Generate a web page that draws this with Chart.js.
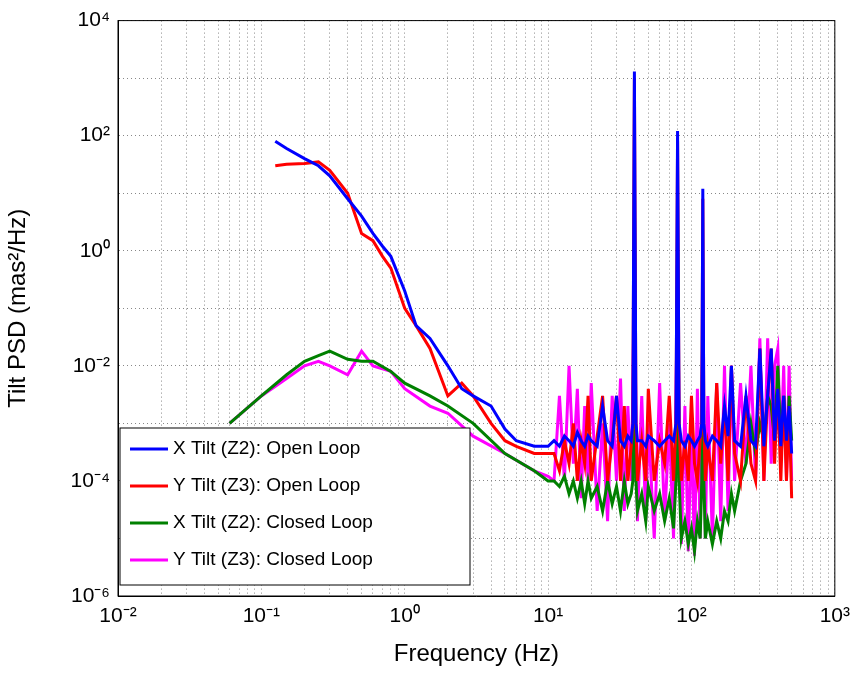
<!DOCTYPE html>
<html>
<head>
<meta charset="utf-8">
<script src="https://cdn.jsdelivr.net/npm/chart.js@4"></script>
<style>
  body { margin: 0; background: #fff; }
  #wrap { width: 858px; height: 673px; }
</style>
</head>
<body>
<div id="wrap"><canvas id="psd"></canvas></div>
<script>
// low-frequency parts
const freqLowOpen = [0.125, 0.15, 0.2, 0.25, 0.3, 0.4, 0.5, 0.6, 0.7, 0.8, 1, 1.2, 1.5, 2, 2.5, 3, 4, 5, 6, 8, 10];
const xOpenLow = [80, 60, 40, 30, 20, 8, 4, 2, 1.2, 0.8, 0.2, 0.05, 0.03, 0.01, 0.004, 0.003, 0.002, 0.0008, 0.0005, 0.0004, 0.0004];
const yOpenLow = [30, 32, 33, 35, 25, 10, 2, 1.5, 0.8, 0.5, 0.1, 0.05, 0.02, 0.003, 0.005, 0.003, 0.001, 0.0005, 0.0004, 0.0003, 0.0003];

const freqLowClosed = [0.06, 0.1, 0.15, 0.2, 0.25, 0.3, 0.4, 0.5, 0.6, 0.8, 1, 1.5, 2, 3, 5, 8, 10];
const xClosedLow = [0.001, 0.003, 0.007, 0.012, 0.015, 0.018, 0.013, 0.012, 0.012, 0.008, 0.005, 0.003, 0.002, 0.001, 0.0003, 0.00015, 0.0001];
const yClosedLow = [0.001, 0.003, 0.006, 0.01, 0.012, 0.01, 0.007, 0.018, 0.01, 0.008, 0.004, 0.002, 0.0015, 0.0006, 0.0003, 0.00015, 0.00012];

// high-frequency parts (shared grid)
const freqHigh = [11,12,13,14,15,16,17,18,19,20,22,24,26,28,30,32,34,36,38,39,40,41,42,45,48,50,55,60,65,70,75,78,80,82,85,90,95,100,105,110,115,118,120,122,125,130,140,150,160,170,180,190,200,220,240,260,280,300,320,340,360,380,400,420,440,460,480,500];
const xOpenHigh = [5e-4,4e-4,6e-4,5e-4,4e-4,7e-4,5e-4,4e-4,6e-4,5e-4,4e-4,2e-3,5e-4,4e-4,3e-3,5e-4,4e-4,6e-4,5e-4,1e-3,1300,1e-3,5e-4,5e-4,4e-4,6e-4,5e-4,4e-4,5e-4,6e-4,5e-4,1e-3,120,1e-3,5e-4,4e-4,6e-4,5e-4,4e-4,5e-4,6e-4,1e-3,12,1e-3,5e-4,4e-4,6e-4,5e-4,4e-4,2e-3,6e-4,1e-2,5e-4,4e-4,3e-3,5e-4,4e-4,2e-2,4e-4,3e-3,2e-2,5e-4,4e-3,4e-4,3e-3,5e-4,2e-3,3e-4];
const yOpenHigh = [3e-4,1.5e-4,5e-4,2e-4,1e-3,1e-4,5e-4,2e-4,3e-3,1e-4,6e-4,3e-3,1e-4,5e-4,3e-3,1e-4,2e-3,1e-4,4e-4,1e-3,1000,1e-3,1e-4,5e-4,1e-4,4e-3,1e-4,5e-4,2e-4,3e-3,1e-4,1e-3,80,1e-3,1e-4,5e-4,1e-4,3e-3,2e-4,1e-4,5e-4,1e-3,8,1e-3,1e-4,4e-4,1e-4,5e-3,2e-4,2e-3,1e-4,1e-2,3e-4,1e-4,3e-3,2e-4,1e-4,2e-2,1e-4,3e-3,2e-2,2e-4,4e-3,1e-4,3e-3,1e-4,2e-3,5e-5];
const xClosedHigh = [1e-4,8e-5,1.2e-4,6e-5,1e-4,5e-5,1e-4,4e-5,1e-4,5e-5,8e-5,3e-5,1e-4,4e-5,8e-5,3e-5,1e-4,4e-5,6e-5,1e-4,10,1e-4,3e-5,6e-5,2e-5,8e-5,3e-5,6e-5,2e-5,5e-5,1.5e-5,1e-4,1,1e-4,1e-5,2e-5,8e-6,1.5e-5,6e-6,2e-5,1e-5,1e-4,0.1,1e-4,1e-5,2e-5,8e-6,2e-5,1e-5,3e-5,2e-5,6e-5,3e-5,1e-4,2e-4,1e-3,3e-4,1e-3,5e-4,3e-3,2e-3,5e-4,1e-2,5e-4,3e-3,2e-4,3e-3,5e-4];
const yClosedHigh = [1e-4,3e-3,1e-4,1e-2,2e-4,4e-3,5e-5,2e-3,1e-4,5e-3,3e-5,1e-3,2e-5,3e-3,1e-4,6e-3,3e-5,2e-3,1e-4,3e-3,0.5,1e-3,2e-5,3e-3,2e-5,1e-3,1e-5,5e-3,2e-5,1e-3,1e-5,3e-3,0.3,1e-3,8e-6,2e-3,6e-6,1e-3,5e-6,4e-3,1e-5,2e-3,0.05,1e-3,1e-5,3e-3,1e-5,5e-3,2e-5,1e-2,3e-5,1e-2,1e-4,5e-3,2e-4,1e-2,1e-4,3e-2,1e-4,3e-2,2e-4,1e-2,2e-2,3e-4,1e-2,1e-4,1e-2,1e-4];

const seriesNames = ['X Tilt (Z2): Open Loop', 'Y Tilt (Z3): Open Loop', 'X Tilt (Z2): Closed Loop', 'Y Tilt (Z3): Closed Loop'];
const seriesColors = ['#0000ff', '#ff0000', '#008000', '#ff00ff'];

function pts(fLow, vLow, vHigh) {
    return fLow.map((f, i) => ({ x: f, y: vLow[i] }))
        .concat(freqHigh.map((f, i) => ({ x: f, y: vHigh[i] })));
}

const sup = { '-': '⁻', '0': '⁰', '1': '¹', '2': '²', '3': '³', '4': '⁴', '5': '⁵', '6': '⁶', '7': '⁷', '8': '⁸', '9': '⁹' };
function pow10(e) { return '10' + String(e).split('').map(c => sup[c]).join(''); }

const frame = {
    id: 'frame',
    afterDatasetsDraw(chart) {
        const { ctx, chartArea: a } = chart;
        ctx.save();
        ctx.strokeStyle = '#000';
        ctx.lineWidth = 1;
        ctx.strokeRect(a.left, a.top, a.right - a.left, a.bottom - a.top);
        // legend box
        const lx = a.left + 2, ly = 428, lw = 350, lh = 157;
        ctx.fillStyle = '#fff';
        ctx.fillRect(lx, ly, lw, lh);
        ctx.strokeRect(lx, ly, lw, lh);
        ctx.font = '19px Arial, "Liberation Sans"';
        ctx.textBaseline = 'middle';
        seriesNames.forEach((n, i) => {
            const y = ly + 21 + i * 37;
            ctx.strokeStyle = seriesColors[i];
            ctx.lineWidth = 3;
            ctx.beginPath(); ctx.moveTo(lx + 10, y); ctx.lineTo(lx + 48, y); ctx.stroke();
            ctx.fillStyle = '#000';
            ctx.fillText(n, lx + 53, y);
        });
        ctx.restore();
    }
};

const data = [
    pts(freqLowOpen, xOpenLow, xOpenHigh),
    pts(freqLowOpen, yOpenLow, yOpenHigh),
    pts(freqLowClosed, xClosedLow, xClosedHigh),
    pts(freqLowClosed, yClosedLow, yClosedHigh)
];

Chart.defaults.font.family = 'Arial, "Liberation Sans", sans-serif';
Chart.defaults.color = '#000';

new Chart(document.getElementById('psd'), {
    type: 'line',
    data: {
        datasets: data.map((d, i) => ({
            label: seriesNames[i],
            data: d,
            borderColor: seriesColors[i],
            borderWidth: 3,
            pointRadius: 0,
            tension: 0,
            fill: false
        }))
    },
    options: {
        responsive: true,
        maintainAspectRatio: false,
        animation: false,
        layout: { padding: { top: 17, right: 23, left: 0, bottom: 0 } },
        plugins: { legend: { display: false }, tooltip: { enabled: false } },
        scales: {
            x: {
                type: 'logarithmic',
                min: 0.01, max: 1000,
                afterBuildTicks(s) {
                    const t = [];
                    for (let e = -2; e <= 2; e++) for (let k = 1; k <= 9; k++) t.push({ value: k * Math.pow(10, e) });
                    t.push({ value: 1000 });
                    s.ticks = t;
                },
                afterFit(s) { s.height = 77; },
                ticks: {
                    autoSkip: false, maxRotation: 0, padding: 8,
                    font: { size: 21 },
                    callback(v) {
                        const e = Math.log10(v);
                        return Math.abs(e - Math.round(e)) < 1e-9 ? pow10(Math.round(e)) : '';
                    }
                },
                grid: { color: '#888', drawTicks: false },
                border: { dash: [1, 3], color: '#000' },
                title: { display: true, text: 'Frequency (Hz)', font: { size: 24 }, padding: { top: 0 } }
            },
            y: {
                type: 'logarithmic',
                min: 1e-6, max: 1e4,
                afterBuildTicks(s) {
                    const t = [];
                    for (let e = -6; e <= 4; e++) t.push({ value: Math.pow(10, e) });
                    s.ticks = t;
                },
                afterFit(s) { s.width = 118; },
                ticks: {
                    autoSkip: false, padding: 8,
                    font: { size: 21 },
                    callback(v) {
                        const e = Math.round(Math.log10(v));
                        return e % 2 === 0 ? pow10(e) : '';
                    }
                },
                grid: { color: '#888', drawTicks: false },
                border: { dash: [1, 3], color: '#000' },
                title: { display: true, text: 'Tilt PSD (mas²/Hz)', font: { size: 24 }, padding: { bottom: 2 } }
            }
        }
    },
    plugins: [frame]
});
</script>
</body>
</html>
